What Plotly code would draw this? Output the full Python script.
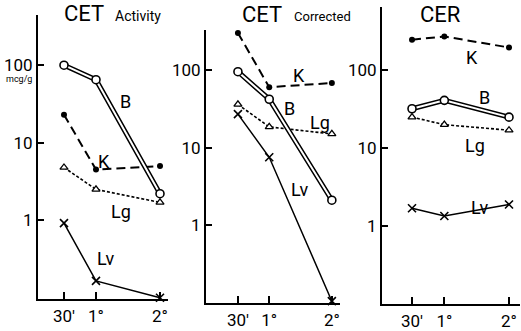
import plotly.graph_objects as go

W, H = 521, 331

# ---- data ----
times = [0.5, 1, 2]
time_labels = ["30'", "1°", "2°"]
y_tickvals = [1, 10, 100]
y_ticktext = ["1", "10", "100"]

act_B = [100, 65, 2.2]
act_K = [23, 4.5, 5.0]
act_Lg = [4.8, 2.5, 1.7]
act_Lv = [0.92, 0.165, 0.1]

cor_B = [95, 42, 2.1]
cor_K = [300, 60, 68]
cor_Lg = [36, 18.5, 15]
cor_Lv = [27, 7.5, 0.105]

cer_B = [32, 41, 25]
cer_K = [245, 270, 195]
cer_Lg = [25, 20, 17]
cer_Lv = [1.7, 1.35, 1.9]

panels = [
    dict(B=act_B, K=act_K, Lg=act_Lg, Lv=act_Lv),
    dict(B=cor_B, K=cor_K, Lg=cor_Lg, Lv=cor_Lv),
    dict(B=cer_B, K=cer_K, Lg=cer_Lg, Lv=cer_Lv),
]

FONT = "Roboto, Liberation Sans Narrow, DejaVu Sans Condensed, sans-serif"

def px(x, y):
    return x / W, 1 - y / H

# panel geometry (pixels)
geom = [
    dict(x0=38, x1=168, xr=[0.094, 2.125], y0=303, y1=15, yr=[-1.02, 2.65]),
    dict(x0=206, x1=340, xr=[-0.01, 2.13], y0=307, y1=30, yr=[-1.006, 2.52]),
    dict(x0=382, x1=520, xr=[0.036, 2.17], y0=308, y1=7, yr=[-1.0, 2.81]),
]

fig = go.Figure()
layout = dict(width=W, height=H, margin=dict(l=0, r=0, t=0, b=0),
              paper_bgcolor="white", plot_bgcolor="white", showlegend=False,
              font=dict(family=FONT, color="black"))

for i, (p, g) in enumerate(zip(panels, geom)):
    n = "" if i == 0 else str(i + 1)
    xa, ya = "x" + n, "y" + n
    # K dashed with filled dots
    fig.add_trace(go.Scatter(x=times, y=p["K"], xaxis=xa, yaxis=ya, mode="lines+markers",
                             line=dict(color="black", width=2, dash="9px,5px"),
                             marker=dict(symbol="circle", size=6, color="black"),
                             cliponaxis=False))
    # Lg dotted with open triangles
    fig.add_trace(go.Scatter(x=times, y=p["Lg"], xaxis=xa, yaxis=ya, mode="lines+markers",
                             line=dict(color="black", width=1.6, dash="3px,2px"),
                             marker=dict(symbol="triangle-up", size=7, color="white",
                                         line=dict(color="black", width=1.3)),
                             cliponaxis=False))
    # Lv solid with x markers
    fig.add_trace(go.Scatter(x=times, y=p["Lv"], xaxis=xa, yaxis=ya, mode="lines+markers",
                             line=dict(color="black", width=1.5),
                             marker=dict(symbol="x-thin", size=8,
                                         line=dict(color="black", width=1.6)),
                             cliponaxis=False))
    # B double line with open circles
    fig.add_trace(go.Scatter(x=times, y=p["B"], xaxis=xa, yaxis=ya, mode="lines",
                             line=dict(color="black", width=5), cliponaxis=False))
    fig.add_trace(go.Scatter(x=times, y=p["B"], xaxis=xa, yaxis=ya, mode="lines",
                             line=dict(color="white", width=2), cliponaxis=False))
    fig.add_trace(go.Scatter(x=times, y=p["B"], xaxis=xa, yaxis=ya, mode="markers",
                             marker=dict(symbol="circle", size=8, color="white",
                                         line=dict(color="black", width=1.6)),
                             cliponaxis=False))

    layout["xaxis" + n] = dict(domain=[g["x0"] / W, g["x1"] / W], range=g["xr"],
                               anchor=ya, showgrid=False, zeroline=False,
                               showline=True, linecolor="black", linewidth=2,
                               tickvals=times, ticktext=time_labels, ticks="inside",
                               ticklen=7, tickwidth=1.5, tickcolor="black",
                               tickfont=dict(size=17, family=FONT))
    layout["yaxis" + n] = dict(domain=[1 - g["y0"] / H, 1 - g["y1"] / H], range=g["yr"],
                               type="log", anchor=xa, showgrid=False, zeroline=False,
                               showline=True, linecolor="black", linewidth=2,
                               tickvals=y_tickvals, ticktext=y_ticktext, ticks="inside",
                               ticklen=6, tickwidth=1.5, tickcolor="black",
                               tickfont=dict(size=17, family=FONT))

fig.update_layout(**layout)

def label(text, x, y, size=18, xanchor="center"):
    ax, ay = px(x, y)
    fig.add_annotation(text=text, x=ax, y=ay, xref="paper", yref="paper",
                       showarrow=False, xanchor=xanchor, yanchor="middle",
                       font=dict(size=size, family=FONT, color="black"))

# titles
label("CET", 84, 14, size=22)
label("Activity", 113, 16, size=14, xanchor="left")
label("CET", 262, 15, size=22)
label("Corrected", 292, 17, size=13, xanchor="left")
label("CER", 440, 15, size=22)
label("mcg/g", 19, 80, size=9)

# series labels
for t, x, y in [("B", 125, 103), ("K", 104, 163), ("Lg", 121, 214), ("Lv", 106, 262),
                ("K", 299, 76), ("B", 289, 110), ("Lg", 320, 124), ("Lv", 300, 192),
                ("K", 472, 58), ("B", 484, 99), ("Lg", 475, 147), ("Lv", 480, 210)]:
    label(t, x, y, size=18)

fig.write_html("out.html")
